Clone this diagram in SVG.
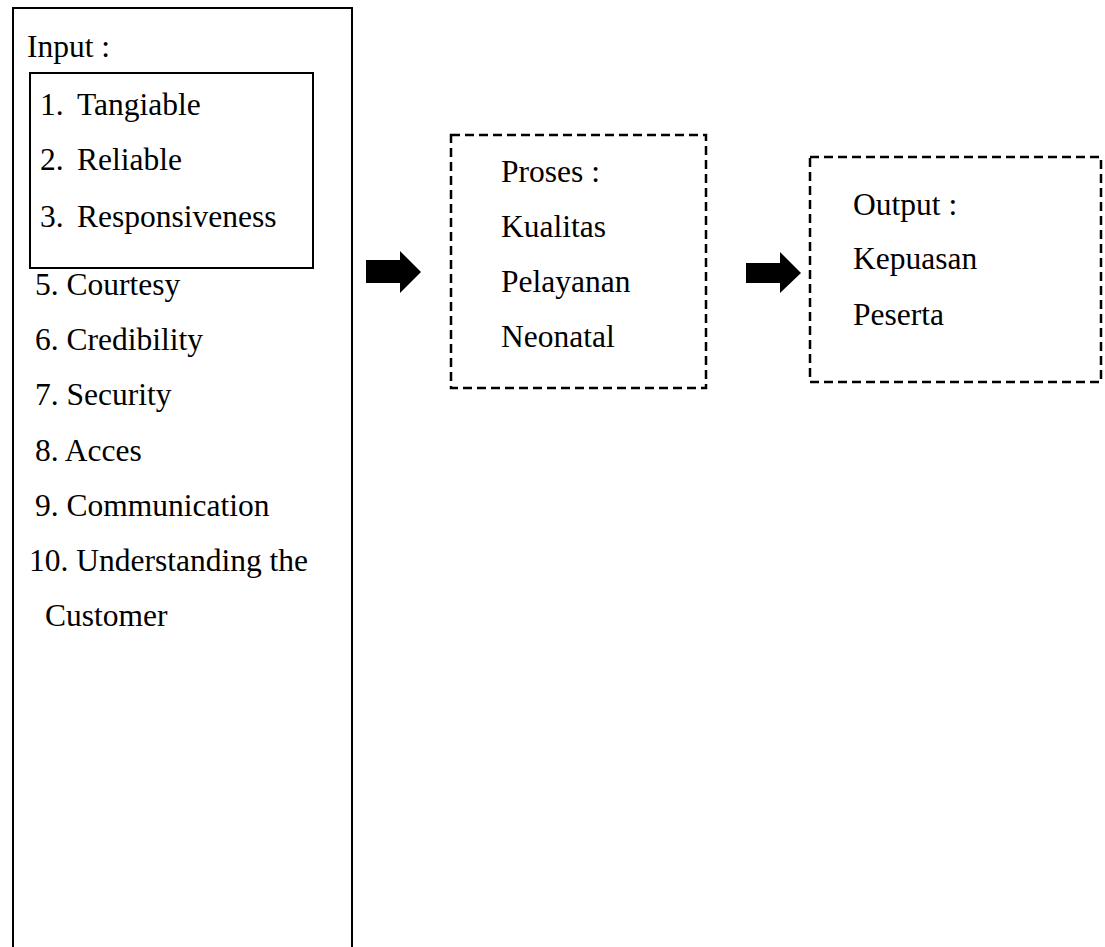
<svg xmlns="http://www.w3.org/2000/svg" width="1105" height="947" viewBox="0 0 1105 947">
<style>
text { font-family: "Liberation Serif", "Times New Roman", serif; font-size: 31.5px; fill: #000; }
.solid { fill: none; stroke: #000; stroke-width: 2; }
.dash { fill: none; stroke: #000; stroke-width: 2.5; stroke-dasharray: 9 5; }
.arrow { fill: #000; stroke: none; }
</style>
<rect width="1105" height="947" fill="#fff"/>
<g id="input">
<path class="solid" d="M13,960 V8 H352 V960"/>
<text x="27" y="57">Input :</text>
<g id="input-sub">
<rect class="solid" x="30" y="73" width="283" height="195"/>
<text y="115"><tspan x="40">1.</tspan><tspan x="77">Tangiable</tspan></text>
<text y="170"><tspan x="40">2.</tspan><tspan x="77">Reliable</tspan></text>
<text y="227"><tspan x="40">3.</tspan><tspan x="77">Responsiveness</tspan></text>
</g>
<text x="35" y="295">5. Courtesy</text>
<text x="35" y="350">6. Credibility</text>
<text x="35" y="405">7. Security</text>
<text x="35" y="461">8. Acces</text>
<text x="35" y="516">9. Communication</text>
<text x="29" y="571">10. Understanding the</text>
<text x="45" y="626">Customer</text>
</g>
<g id="proses">
<rect class="dash" x="451" y="135" width="255" height="253"/>
<text x="501" y="182">Proses :</text>
<text x="501" y="237">Kualitas</text>
<text x="501" y="292">Pelayanan</text>
<text x="501" y="347">Neonatal</text>
</g>
<g id="output">
<rect class="dash" x="810" y="157" width="291" height="225"/>
<text x="853" y="215">Output :</text>
<text x="853" y="269">Kepuasan</text>
<text x="853" y="325">Peserta</text>
</g>
<g id="connectors">
<polygon class="arrow" points="366,260 400,260 400,251 421,272 400,293 400,283 366,283"/>
<polygon class="arrow" points="746,263 780,263 780,252 801,273 780,293 780,283 746,283"/>
</g>
</svg>
